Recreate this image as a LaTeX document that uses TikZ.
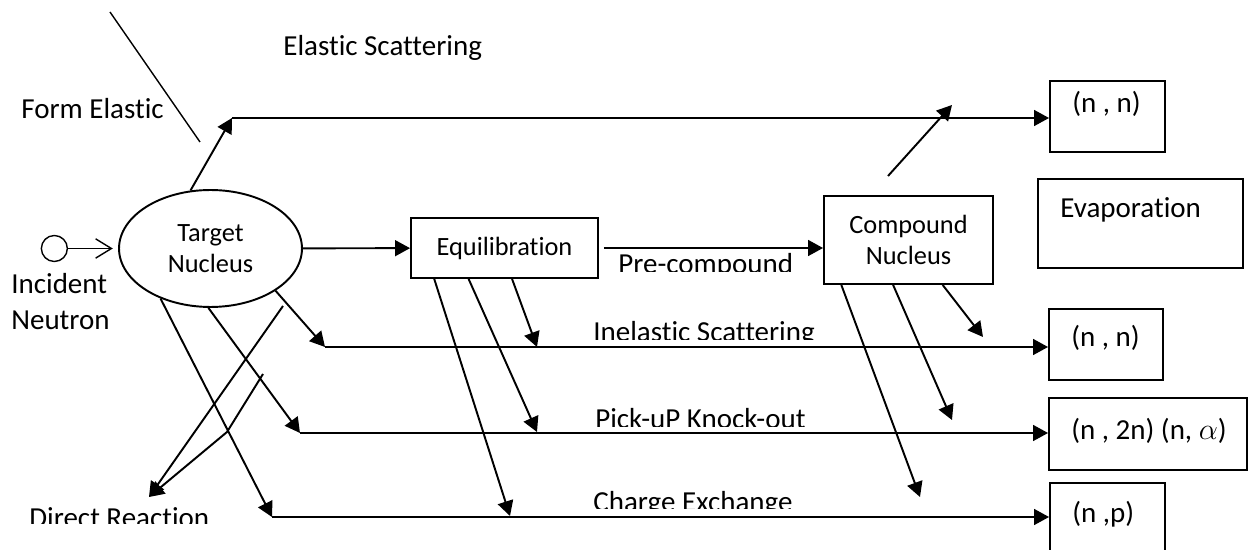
\documentclass[tikz,border=0pt]{standalone}
\usepackage{fontspec}
\setmainfont{Carlito}[Ligatures=NoCommon]
\usetikzlibrary{positioning,calc,arrows.meta,shapes.geometric}

\tikzset{
	lbl/.style={inner sep=0pt, anchor=base west, font=\fontsize{16.5}{20}\selectfont},
	innertxt/.style={font=\fontsize{15}{17.5}\selectfont},
	box/.style={draw, line width=1.1pt, inner sep=0pt},
	flow/.style={line width=1.1pt, -{Triangle[length=8.5pt,width=9pt]}},
	thinline/.style={line width=0.8pt},
}

\begin{document}
\begin{tikzpicture}[x=0.02cm, y=-0.02cm]
	\useasboundingbox (0,0) rectangle (1248,550);

	\node[ellipse, box, innertxt, minimum width=3.66cm, minimum height=2.34cm, align=center] (tgt) at (210.5,248.5) {Target\\Nucleus};
	\node[circle, draw, thinline, minimum size=0.52cm, inner sep=0pt, left=1cm of tgt] (neut) {};
	\node[box, innertxt, minimum width=3.74cm, minimum height=1.2cm] (eq) at (504.5,248) {Equilibration};
	\node[box, innertxt, minimum width=3.38cm, minimum height=1.76cm, align=center] (cn) at (908.5,240) {Compound\\Nucleus};

	\node[box, minimum width=2.3cm, minimum height=1.42cm] (nn1) at (1107.5,116.5) {};
	\node[box, minimum width=4.1cm, minimum height=1.78cm] (ev) at (1140.5,223.5) {};
	\node[box, minimum width=2.28cm, minimum height=1.42cm] (nn2) at (1106,344.5) {};
	\node[box, minimum width=3.96cm, minimum height=1.44cm] (nx) at (1148,434) {};
	\node[box, minimum width=2.3cm, minimum height=1.54cm] (np) at (1107.5,521.5) {};

	\node[lbl] (nn1l) at (1072,113) {(n , n)};
	\node[lbl] (evl) at (1060,218) {Evaporation};
	\node[lbl] (nn2l) at (1071,347) {(n , n)};
	\node[lbl] (nxl) at (1071,440) {(n , 2n) (n, $\alpha$)};
	\node[lbl] (npl) at (1072,522) {(n ,p)};

	\node[lbl] (els) at (283,56) {Elastic Scattering};
	\node[lbl] (fel) at (21,119) {Form Elastic};
	\node[lbl] (inc) at (11,294) {Incident};
	\node[lbl] (neu) at (11,330) {Neutron};

	\foreach \nm/\x/\y/\cy/\txt in {prel/618/274/272/Pre-compound, inel/593/342/340/Inelastic Scattering, pkul/595/429/427/Pick-uP Knock-out, chxl/593/512/508.5/Charge Exchange, drl/29/527/524/Direct Reaction}{
		\begin{scope}
			\clip (0,0) rectangle (1248,\cy);
			\node[lbl] (\nm) at (\x,\y) {\txt};
		\end{scope}
	}

	\coordinate (fa) at (110,12);
	\coordinate (fb) at (200,142);
	\coordinate (elc) at (232,118);
	\coordinate (cnu1) at (888,176);
	\coordinate (cnu2) at (952,105);
	\coordinate (ine) at (325,347);
	\coordinate (pku) at (300,433);
	\coordinate (chx) at (272,517);
	\coordinate (dra) at (283,306);
	\coordinate (drb) at (263,374);
	\coordinate (drk) at (227,432);
	\coordinate (drt) at (149,497);
	\coordinate (q1) at (537,347);
	\coordinate (q2) at (537,432);
	\coordinate (q3) at (510,516);
	\coordinate (c1) at (983,337);
	\coordinate (c2) at (952,420);
	\coordinate (c3) at (920,497);

	\draw[thinline] (fa) -- (fb);
	\draw[thinline, -{Straight Barb[length=9pt,width=11pt]}, shorten >=3pt] (neut) -- (tgt);

	\draw[flow] (tgt.109) -- (elc);
	\draw[flow] (elc) -- (elc -| nn1.west);
	\draw[flow] (tgt) -- (eq);
	\draw[flow, shorten <=2.8pt] (eq.east) -- (eq.east -| cn.west);
	\draw[flow] (cnu1) -- (cnu2);

	\draw[flow] (tgt.-33) -- (ine);
	\draw[flow] (ine) -- (ine -| nn2.west);
	\draw[flow] (tgt.-92) -- (pku);
	\draw[flow] (pku) -- (pku -| nx.west);
	\draw[flow] (tgt.-135) -- (chx);
	\draw[flow] (chx) -- (chx -| np.west);

	\draw[flow] (dra) -- (drt);
	\draw[flow] (drb) -- (drk) -- (drt);

	\draw[flow] ($(eq.south west)!0.54!(eq.south east)$) -- (q1);
	\draw[flow] ($(eq.south west)!0.31!(eq.south east)$) -- (q2);
	\draw[flow] ($(eq.south west)!0.128!(eq.south east)$) -- (q3);

	\draw[flow] ($(cn.south west)!0.7!(cn.south east)$) -- (c1);
	\draw[flow] ($(cn.south west)!0.41!(cn.south east)$) -- (c2);
	\draw[flow] ($(cn.south west)!0.107!(cn.south east)$) -- (c3);
\end{tikzpicture}
\end{document}
